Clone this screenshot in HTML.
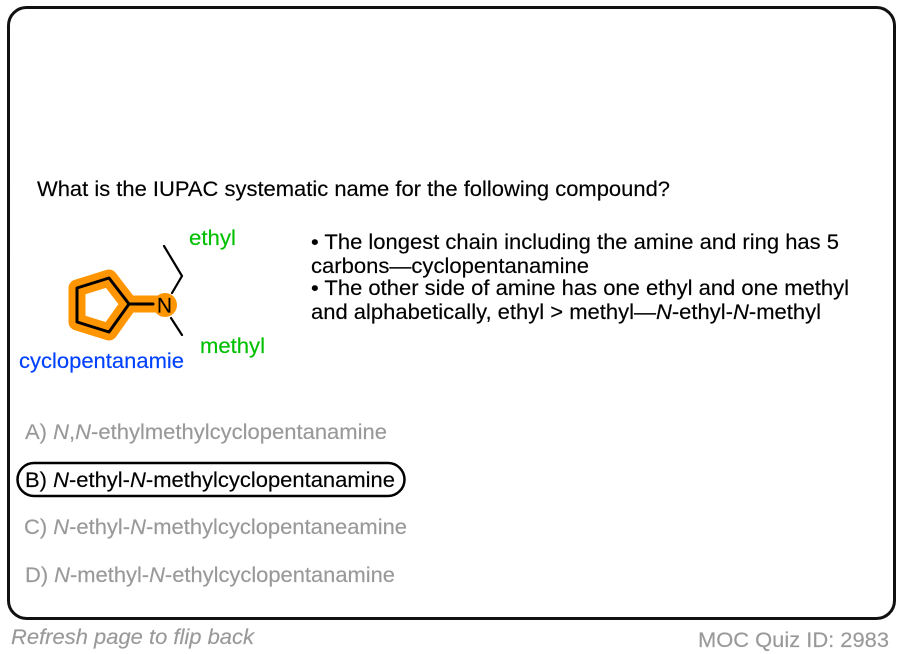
<!DOCTYPE html>
<html><head><meta charset="utf-8"><style>
html,body{margin:0;padding:0;background:#fff;width:902px;height:654px;overflow:hidden}
svg{display:block;position:absolute;left:0;top:0}
text{font-family:"Liberation Sans",sans-serif;font-size:21px;stroke:currentColor;stroke-width:.15px;color:#000}
.g{fill:#999;color:#999}.c{fill:#00c000;color:#00c000}
</style></head><body>
<svg width="902" height="654" viewBox="0 0 902 654" xmlns="http://www.w3.org/2000/svg">
<rect x="8.5" y="7.5" width="886" height="611" rx="18" fill="#fff" stroke="#111" stroke-width="3"/>
<text x="37" y="196" textLength="633" lengthAdjust="spacingAndGlyphs">What is the IUPAC systematic name for the following compound?</text>
<g fill="none" stroke-linejoin="round" stroke-linecap="round">
<path d="M77 288L109 278L129 304L109 332L77 322Z M129 304H164" stroke="#ff9500" stroke-width="17"/>
<circle cx="165" cy="305" r="12" fill="#ff9500" stroke="none"/>
<path d="M77 288L109 278L129 304L109 332L77 322Z M129 304H153" stroke="#000" stroke-width="3"/>
<path d="M172 293L182 276L164 246M171 318L182 335" stroke="#000" stroke-width="2.2"/>
</g>
<text x="164.5" y="312.5" text-anchor="middle" style="font-size:21px">N</text>
<text class="c" x="189" y="245" textLength="47" lengthAdjust="spacingAndGlyphs">ethyl</text>
<text class="c" x="200" y="353" textLength="65" lengthAdjust="spacingAndGlyphs">methyl</text>
<text fill="#0040ff" style="color:#0040ff" x="19" y="368" textLength="165" lengthAdjust="spacingAndGlyphs">cyclopentanamie</text>
<text x="311" y="249" textLength="528" lengthAdjust="spacingAndGlyphs">• The longest chain including the amine and ring has 5</text>
<text x="311" y="273" textLength="278" lengthAdjust="spacingAndGlyphs">carbons—cyclopentanamine</text>
<text x="311" y="295" textLength="538" lengthAdjust="spacingAndGlyphs">• The other side of amine has one ethyl and one methyl</text>
<text x="311" y="319" textLength="510" lengthAdjust="spacingAndGlyphs">and alphabetically, ethyl &gt; methyl—<tspan font-style="italic">N</tspan>-ethyl-<tspan font-style="italic">N</tspan>-methyl</text>
<text class="g" x="25" y="439" textLength="362" lengthAdjust="spacingAndGlyphs">A) <tspan font-style="italic">N</tspan>,<tspan font-style="italic">N</tspan>-ethylmethylcyclopentanamine</text>
<rect x="17.5" y="463" width="387" height="33" rx="16.5" fill="none" stroke="#000" stroke-width="2.5"/>
<text x="25" y="487" textLength="370" lengthAdjust="spacingAndGlyphs">B) <tspan font-style="italic">N</tspan>-ethyl-<tspan font-style="italic">N</tspan>-methylcyclopentanamine</text>
<text class="g" x="24" y="534" textLength="383" lengthAdjust="spacingAndGlyphs">C) <tspan font-style="italic">N</tspan>-ethyl-<tspan font-style="italic">N</tspan>-methylcyclopentaneamine</text>
<text class="g" x="25" y="582" textLength="370" lengthAdjust="spacingAndGlyphs">D) <tspan font-style="italic">N</tspan>-methyl-<tspan font-style="italic">N</tspan>-ethylcyclopentanamine</text>
<text class="g" x="11" y="644" font-style="italic" textLength="243" lengthAdjust="spacingAndGlyphs">Refresh page to flip back</text>
<text class="g" x="698" y="647" textLength="191" lengthAdjust="spacingAndGlyphs">MOC Quiz ID: 2983</text>
</svg>
</body></html>
